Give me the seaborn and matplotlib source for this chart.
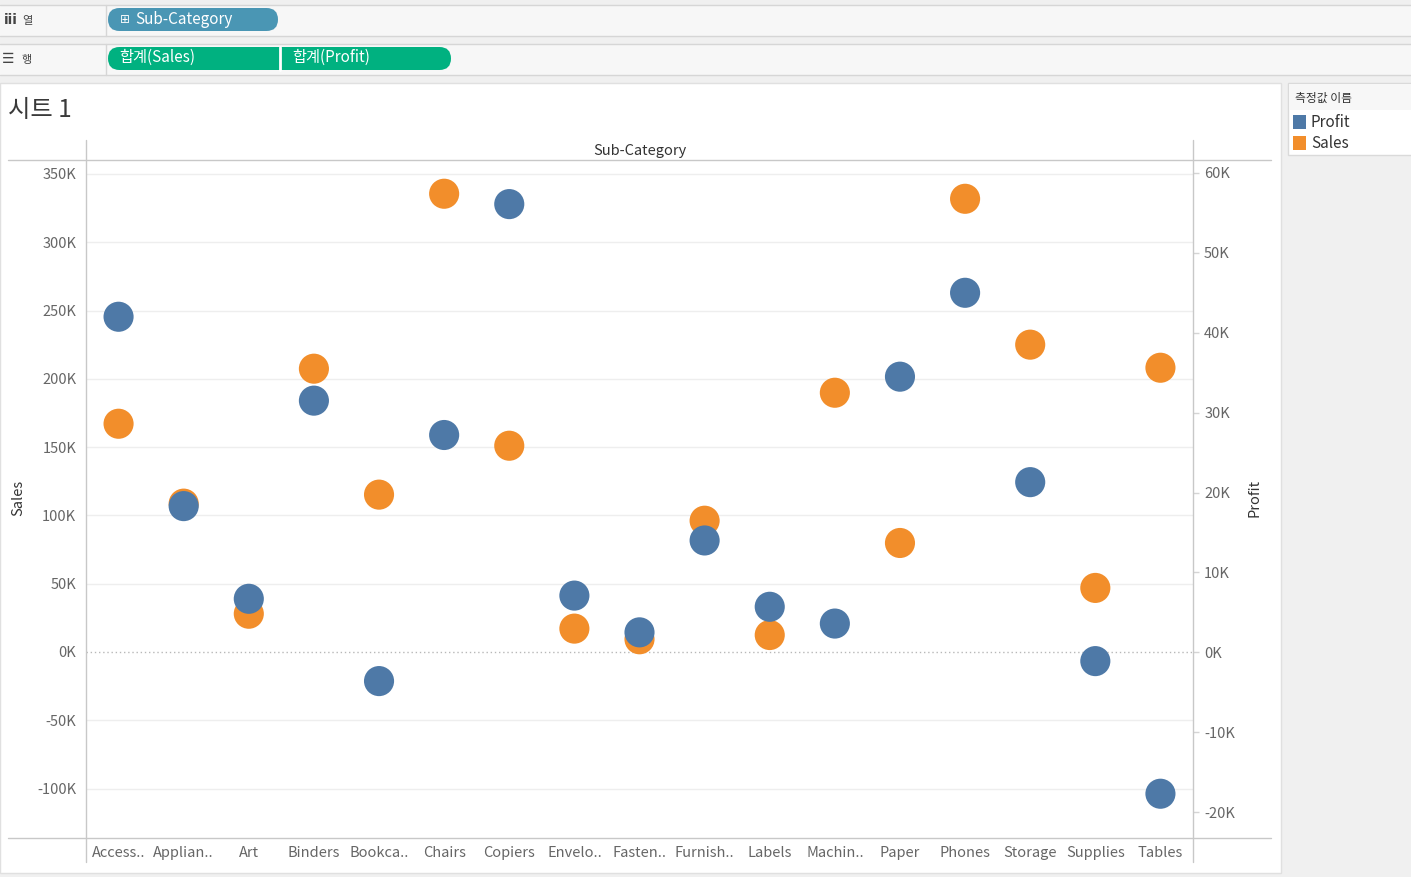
import numpy as np
import pandas as pd
import matplotlib
matplotlib.use('Agg')
import matplotlib.pyplot as plt
import seaborn as sns
from matplotlib.patches import Rectangle, FancyBboxPatch
from matplotlib.lines import Line2D
from matplotlib.transforms import IdentityTransform

# data (values in dollars)
categories = ['Accessories', 'Appliances', 'Art', 'Binders', 'Bookcases', 'Chairs', 'Copiers',
              'Envelopes', 'Fasteners', 'Furnishings', 'Labels', 'Machines', 'Paper', 'Phones',
              'Storage', 'Supplies', 'Tables']
tick_labels = ['Access..', 'Applian..', 'Art', 'Binders', 'Bookca..', 'Chairs', 'Copiers',
               'Envelo..', 'Fasten..', 'Furnish..', 'Labels', 'Machin..', 'Paper', 'Phones',
               'Storage', 'Supplies', 'Tables']
sales = [167100, 108600, 28000, 207400, 115200, 335500, 151000, 17100, 9300, 96100,
         12400, 189800, 79800, 331800, 225000, 46900, 208100]
profit = [42000, 18300, 6700, 31500, -3600, 27200, 56100, 7100, 2500, 14000,
          5700, 3600, 34500, 45000, 21300, -1100, -17700]
sales_ticks = [-100000, -50000, 0, 50000, 100000, 150000, 200000, 250000, 300000, 350000]
profit_ticks = [-20000, -10000, 0, 10000, 20000, 30000, 40000, 50000, 60000]

BLUE = '#4e79a7'
ORANGE = '#f28e2b'
W, H = 1411, 877

sns.set_theme(style='white')
plt.rcParams['font.family'] = ['Noto Sans CJK KR', 'DejaVu Sans']

fig = plt.figure(figsize=(W / 100, H / 100), dpi=100, facecolor='#f0f0f0')
PX = IdentityTransform()


def box(x0, y0, x1, y1, fc, ec='none', lw=0, z=0):
    fig.add_artist(Rectangle((x0, H - y1), x1 - x0, y1 - y0, transform=PX,
                             facecolor=fc, edgecolor=ec, linewidth=lw, zorder=z))


def line(x0, y0, x1, y1, color='#d0d0d0', lw=1, z=1):
    fig.add_artist(Line2D([x0, x1], [H - y0, H - y1], transform=PX, color=color,
                          linewidth=lw, zorder=z))


def text(x, y, s, **kw):
    fig.text(x / W, 1 - y / H, s, **kw)


# --- shelves ---
box(0, 5, W, 36, '#f7f7f7')
box(0, 44, W, 75, '#f7f7f7')
for yy in (5, 36, 44, 75):
    line(0, yy, W, yy, '#d6d6d6')
line(106, 5, 106, 36, '#d6d6d6')
line(106, 44, 106, 75, '#d6d6d6')
text(4, 20, 'iii', fontsize=10, color='#444', va='center', weight='bold', family=['DejaVu Sans'])
text(22, 21, '열', fontsize=8, color='#444', va='center')
text(2, 59, '☰', fontsize=10, color='#444', va='center', family=['DejaVu Sans'])
text(22, 60, '행', fontsize=8, color='#444', va='center')

fig.add_artist(FancyBboxPatch((108, H - 31), 170, 23, boxstyle='round,pad=0,rounding_size=11.5',
                              transform=PX, facecolor='#4a96b4', edgecolor='none', zorder=2))
text(120, 19.5, '⊞', fontsize=8.5, color='white', va='center', family=['DejaVu Sans'], zorder=3)
text(135, 19, 'Sub-Category', fontsize=11, color='white', va='center', zorder=3)

fig.add_artist(FancyBboxPatch((108, H - 70), 343, 23, boxstyle='round,pad=0,rounding_size=11.5',
                              transform=PX, facecolor='#00b180', edgecolor='none', zorder=2))
line(279.5, 47, 279.5, 70, 'white', lw=2, z=3)
text(119, 57.5, '합계(Sales)', fontsize=11, color='white', va='center', zorder=3)
text(292, 57.5, '합계(Profit)', fontsize=11, color='white', va='center', zorder=3)

# --- sheet panel ---
box(0, 83, 1281, 873, 'white', ec='#e0e0e0', lw=1)
text(8, 110, '시트 1', fontsize=17.5, color='#3a3a3a', va='center', weight='light')

# --- legend panel ---
box(1288, 83, W + 2, 155, 'white', ec='#dadada', lw=1)
box(1289, 84, W, 110, '#f7f7f7')
text(1295, 98, '측정값 이름', fontsize=8.5, color='#333333', va='center')
box(1293, 115, 1306, 129, BLUE, z=2)
box(1293, 136, 1306, 150, ORANGE, z=2)
text(1311, 122.5, 'Profit', fontsize=11, color='#333333', va='center')
text(1311, 143.5, 'Sales', fontsize=11, color='#333333', va='center')

# --- chart frame lines ---
line(8, 160, 1271, 160, '#c8c8c8')
line(8, 838, 1271, 838, '#c8c8c8')
line(86, 140, 86, 862, '#c8c8c8')
line(1193, 140, 1193, 862, '#c8c8c8')
text(640, 151, 'Sub-Category', fontsize=10.5, color='#333333', ha='center', va='center')
text(18, 498, 'Sales', fontsize=10.5, color='#333333', ha='center', va='center', rotation=90)
text(1254, 498, 'Profit', fontsize=10.5, color='#333333', ha='center', va='center', rotation=90)

df = pd.DataFrame({'Sub-Category': categories, 'Sales': sales, 'Profit': profit})

ax = fig.add_axes([86 / W, 1 - 838 / H, (1193 - 86) / W, (838 - 160) / H])
ax.set_facecolor('none')
for t in sales_ticks:
    if t == 0:
        ax.axhline(0, color='#b8b8b8', lw=1, ls=(0, (1, 2)), zorder=1)
    else:
        ax.axhline(t, color='#eeeeee', lw=1, zorder=1)
sns.scatterplot(data=df, x='Sub-Category', y='Sales', ax=ax, color=ORANGE, s=470,
                edgecolor='none', linewidth=0, zorder=3, legend=False)
ax.set_ylim(-136200, 360200)
ax.set_xlim(-0.5, len(categories) - 0.5)
ax.set_yticks(sales_ticks)
ax.set_yticklabels([f'{t / 1000:.0f}K' for t in sales_ticks])
ax.set_xticks(range(len(categories)))
ax.set_xticklabels(tick_labels)
ax.set_xticks(np.arange(-0.5, len(categories), 1), minor=True)
ax.tick_params(axis='y', which='both', length=0, pad=7, labelsize=10.5, labelcolor='#666666')
ax.tick_params(axis='x', which='major', length=0, pad=6, labelsize=10.5, labelcolor='#666666')
ax.tick_params(axis='x', which='minor', length=4, width=1, color='#e6e6e6', direction='out')
ax.set_xlabel('')
ax.set_ylabel('')
for s in ax.spines.values():
    s.set_visible(False)

ax2 = ax.twinx()
sns.scatterplot(data=df, x='Sub-Category', y='Profit', ax=ax2, color=BLUE, s=470,
                edgecolor='none', linewidth=0, zorder=4, legend=False)
ax2.set_ylim(-23240, 61620)
ax2.set_xlim(-0.5, len(categories) - 0.5)
ax2.set_yticks(profit_ticks)
ax2.set_yticklabels([f'{t / 1000:.0f}K' for t in profit_ticks])
ax2.tick_params(axis='y', length=4, width=1, color='#d4d4d4', pad=4, labelsize=10.5,
                labelcolor='#666666')
ax2.set_ylabel('')
ax2.set_xlabel('')
ax2.grid(False)
for s in ax2.spines.values():
    s.set_visible(False)

fig.savefig('out.png', dpi=100, facecolor=fig.get_facecolor())
